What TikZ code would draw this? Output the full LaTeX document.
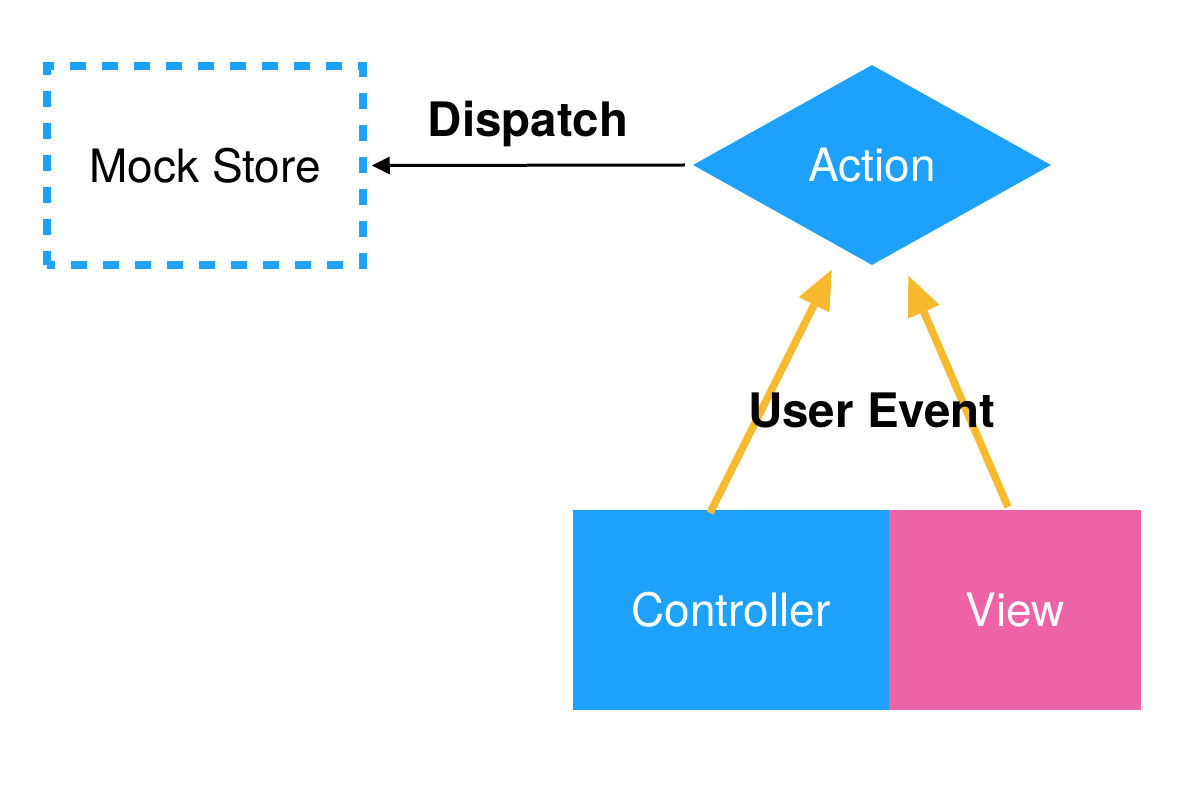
\documentclass[tikz,border=0pt]{standalone}
\usepackage{fontspec}
\setmainfont{TeX Gyre Heros}
\usetikzlibrary{shapes.geometric,arrows.meta}
\definecolor{tblue}{HTML}{1DA1FA}
\definecolor{tpink}{HTML}{EE62A6}
\definecolor{tyellow}{HTML}{F7B92E}
\begin{document}
\begin{tikzpicture}[x=1pt,y=-1pt,
  reg/.style={font=\fontsize{46}{55}\selectfont},
  bld/.style={font=\fontsize{47.5}{56}\selectfont\bfseries},
  boxfill/.style={rectangle,inner sep=0pt,minimum height=200pt,text=white,reg},
  yarrow/.style={draw=tyellow,line width=7.5pt,-{Triangle[length=40pt,width=32pt]}},
  karrow/.style={draw=black,line width=3pt,-{Triangle[length=18pt,width=17pt]}}]
\useasboundingbox (0,0) rectangle (1184,794);
\fill[white] (0,0) rectangle (1184,794);
% Mock store dashed box
\node[reg,rectangle,draw=tblue,line width=7.5pt,dash pattern=on 16pt off 16pt,dash phase=8pt,
  minimum width=316pt,minimum height=199pt,inner sep=0pt] (ms) at (205,165.5) {Mock Store};
% Action diamond
\node[diamond,fill=tblue,text=white,reg,inner sep=0pt,aspect=1.79,
  minimum width=358pt,minimum height=200pt] (act) at (872,165) {Action};
% Controller and View
\node[boxfill,fill=tblue,minimum width=316pt] (ctl) at (731,610) {Controller};
\node[boxfill,fill=tpink,minimum width=252pt] (view) at (1015,610) {View};
% Dispatch arrow
\draw[karrow] ([xshift=-8pt]act.west) -- ([xshift=5pt]ms.east);
\node[bld,anchor=base] (disp) at (528,137) {Dispatch};
% User event arrows
\coordinate (c1) at (710,513);
\coordinate (t1) at (832,269);
\coordinate (c2) at (1008,507);
\coordinate (t2) at (908,275);
\draw[yarrow] (c1) -- (t1);
\draw[yarrow] (c2) -- (t2);
\node[bld,anchor=base] (ue) at (872,427) {User Event};
\end{tikzpicture}
\end{document}
